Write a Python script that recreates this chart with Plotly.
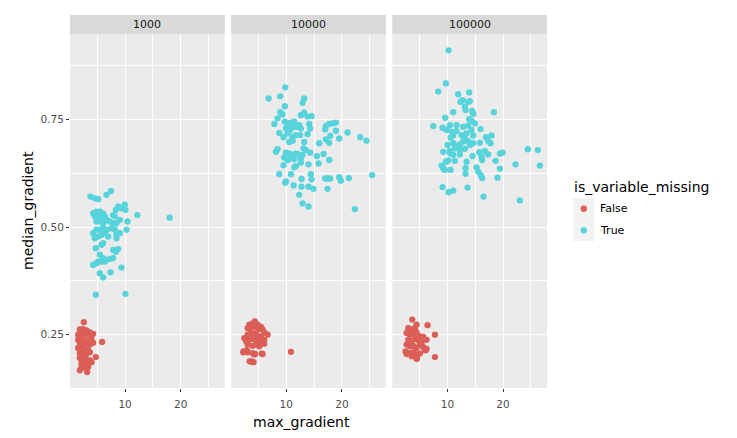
import plotly.graph_objects as go

# ---------------- data ----------------
panels = ["1000", "10000", "100000"]
groups = ["False", "True"]
colors = {"False": "#db5f57", "True": "#57d3db"}

# panel 1000
p1_false_x = [2.58, 1.87, 2.46, 3.06, 3.66, 4.26, 2.16, 2.76, 3.36, 3.96, 1.57, 5.87,
              1.57, 2.16, 2.76, 3.36, 3.96, 1.87, 2.46, 3.06, 3.66, 4.26,
              1.57, 2.16, 2.76, 3.36, 1.87, 2.46, 3.06, 3.66, 4.74,
              1.87, 2.46, 3.06, 3.66, 2.16, 2.76, 3.36, 3.96, 2.16, 2.76, 3.36, 1.87, 3.18]
p1_false_y = [0.279, 0.262, 0.263, 0.260, 0.255, 0.252, 0.254, 0.252, 0.250, 0.248, 0.250, 0.233,
              0.238, 0.240, 0.237, 0.235, 0.238, 0.231, 0.227, 0.231, 0.227, 0.231,
              0.219, 0.215, 0.217, 0.214, 0.207, 0.204, 0.206, 0.209, 0.198,
              0.196, 0.192, 0.193, 0.190, 0.184, 0.180, 0.183, 0.186, 0.177, 0.173, 0.175, 0.167, 0.163]
p1_true_x = [3.78, 4.56, 5.16, 6.66, 7.44, 8.33, 8.75, 9.35, 9.95, 10.07, 12.2, 7.85, 8.15,
             4.26, 4.86, 5.46, 6.06, 4.56, 5.16, 5.76, 6.36, 4.86, 5.46, 6.06, 6.66,
             7.26, 7.85, 8.45, 9.05, 10.43, 10.25, 9.05, 8.45, 8.15, 7.56,
             4.26, 4.86, 5.46, 6.06, 6.66, 4.56, 5.16, 5.76, 6.36, 6.96,
             8.45, 4.74, 5.76, 6.06, 7.85, 8.75, 8.33,
             5.46, 6.06, 6.66, 7.26, 7.85, 5.76, 6.36, 4.26, 4.86, 5.16, 9.35,
             5.46, 6.06, 7.38, 4.74, 10.07, 18.0]
p1_true_y = [0.571, 0.567, 0.565, 0.575, 0.584, 0.540, 0.548, 0.544, 0.552, 0.540, 0.528, 0.528, 0.525,
             0.532, 0.536, 0.536, 0.532, 0.525, 0.525, 0.521, 0.525, 0.513, 0.513, 0.509, 0.517,
             0.513, 0.509, 0.509, 0.517, 0.513, 0.494, 0.486, 0.482, 0.494, 0.497,
             0.486, 0.494, 0.494, 0.497, 0.494, 0.474, 0.478, 0.482, 0.486, 0.478,
             0.474, 0.451, 0.459, 0.463, 0.447, 0.449, 0.443,
             0.436, 0.428, 0.424, 0.426, 0.428, 0.420, 0.420, 0.412, 0.416, 0.420, 0.406,
             0.393, 0.383, 0.395, 0.343, 0.345, 0.522]

# panel 10000
p2_false_x = [4.37, 3.36, 3.96, 4.85, 5.45, 3.06, 3.66, 4.26, 4.85, 5.75, 6.05, 6.65,
              2.46, 3.06, 3.66, 4.26, 4.85, 5.45, 2.76, 3.36, 3.96, 4.55, 5.15, 5.75, 6.05,
              3.06, 3.96, 4.55, 5.15, 6.05, 2.34, 2.94, 3.96, 4.26, 5.57,
              3.66, 4.13, 10.84, 2.27, 3.04, 3.42, 3.89, 5.75, 4.40]
p2_false_y = [0.281, 0.273, 0.276, 0.273, 0.268, 0.265, 0.265, 0.268, 0.262, 0.262, 0.255, 0.250,
              0.242, 0.250, 0.254, 0.252, 0.248, 0.245, 0.235, 0.238, 0.240, 0.237, 0.235, 0.231, 0.238,
              0.227, 0.224, 0.227, 0.223, 0.229, 0.211, 0.214, 0.207, 0.204, 0.206,
              0.188, 0.186, 0.210, 0.209, 0.209, 0.188, 0.187, 0.205, 0.205]
p2_true_x = [9.82, 6.83, 8.92, 13.23, 12.93, 9.76, 8.92, 9.34, 12.63, 13.23, 13.83, 14.55,
             8.44, 7.85, 9.76, 10.24, 10.84, 11.44, 11.74, 9.94, 10.72, 11.32, 12.33, 12.63, 14.13, 14.31,
             17.12, 17.72, 18.32, 18.92, 17.0, 18.92, 21.01, 23.29, 24.42,
             8.74, 9.52, 10.24, 11.14, 11.74, 12.51, 13.83, 17.9, 17.12, 19.52, 17.72,
             10.54, 11.14, 13.23, 15.92, 8.44, 8.14, 13.11, 13.53, 14.31, 11.74, 12.03,
             9.94, 10.54, 11.14, 9.64, 10.24, 10.84, 11.44, 12.63, 12.93,
             15.51, 16.70, 17.72, 15.81, 9.52, 11.74, 12.63, 14.01, 11.44,
             8.74, 10.84, 14.43, 14.55, 12.75, 17.0, 17.42, 17.9, 19.52, 19.82, 21.25, 25.44,
             9.82, 9.94, 11.32, 12.75, 14.01, 14.91, 17.42, 12.33, 12.93, 14.01, 22.33]
p2_true_y = [0.825, 0.799, 0.804, 0.799, 0.789, 0.781, 0.767, 0.762, 0.760, 0.766, 0.757, 0.758,
             0.753, 0.740, 0.745, 0.737, 0.743, 0.745, 0.733, 0.729, 0.726, 0.733, 0.737, 0.729, 0.740, 0.729,
             0.735, 0.740, 0.741, 0.743, 0.727, 0.724, 0.720, 0.709, 0.701,
             0.719, 0.709, 0.718, 0.710, 0.714, 0.714, 0.716, 0.712, 0.704, 0.706, 0.696,
             0.698, 0.701, 0.698, 0.695, 0.681, 0.675, 0.683, 0.679, 0.673, 0.671, 0.670,
             0.673, 0.671, 0.668, 0.662, 0.656, 0.660, 0.658, 0.660, 0.668,
             0.665, 0.670, 0.656, 0.648, 0.644, 0.642, 0.650, 0.646, 0.639,
             0.623, 0.623, 0.623, 0.611, 0.612, 0.613, 0.613, 0.613, 0.616, 0.608, 0.614, 0.621,
             0.603, 0.606, 0.597, 0.594, 0.594, 0.589, 0.589, 0.575, 0.555, 0.548, 0.542]

# panel 100000
p3_false_x = [3.69, 4.46, 2.97, 3.57, 4.17, 6.44, 7.76,
              2.67, 3.27, 3.87, 4.46, 5.06, 5.66, 2.97, 3.57, 4.17, 4.76, 5.36, 6.26,
              2.67, 3.27, 3.87, 4.46, 5.06, 5.66, 6.26,
              2.49, 3.27, 3.87, 4.46, 5.06, 5.96, 4.46, 3.57, 7.76, 2.67, 4.52, 6.09]
p3_false_y = [0.285, 0.273, 0.265, 0.262, 0.265, 0.272, 0.250,
              0.254, 0.250, 0.252, 0.255, 0.246, 0.245, 0.238, 0.235, 0.240, 0.237, 0.232, 0.238,
              0.227, 0.223, 0.224, 0.219, 0.227, 0.221, 0.217,
              0.211, 0.207, 0.209, 0.204, 0.206, 0.214, 0.194, 0.200, 0.198, 0.205, 0.194, 0.214]
p3_true_x = [10.21, 9.73, 8.35, 11.94, 13.92, 12.36, 12.72, 13.74, 14.04, 13.14, 13.26,
             11.05, 14.46, 14.64, 18.35, 9.61, 13.92, 14.34, 14.94,
             7.46, 9.13, 10.45, 11.65, 12.84, 13.74, 14.34, 15.95,
             9.85, 10.75, 11.65, 11.05, 10.57, 12.54, 13.44, 14.64, 13.14,
             16.91, 17.93, 17.33, 17.75, 15.83,
             10.03, 11.05, 11.65, 12.24, 12.84, 13.74, 14.04, 14.64,
             11.35, 12.24, 13.14, 10.45, 9.25, 10.45,
             15.71, 16.73, 17.33, 19.43, 19.90, 24.45, 26.25,
             11.05, 12.24, 14.52, 16.13, 16.25, 10.15, 9.73, 11.35, 13.44,
             18.65, 22.24, 26.61, 8.95, 9.25, 10.57, 9.55, 13.26, 15.24,
             19.43, 15.54, 16.01, 16.25, 13.26, 19.01, 9.13, 13.62, 10.21, 11.05, 16.49, 23.02]
p3_true_y = [0.911, 0.834, 0.815, 0.809, 0.813, 0.791, 0.795, 0.791, 0.793, 0.780, 0.772,
             0.767, 0.770, 0.763, 0.767, 0.754, 0.751, 0.747, 0.741,
             0.735, 0.731, 0.737, 0.737, 0.733, 0.736, 0.726, 0.728,
             0.726, 0.722, 0.723, 0.713, 0.708, 0.714, 0.718, 0.713, 0.706,
             0.709, 0.713, 0.700, 0.695, 0.696,
             0.691, 0.695, 0.689, 0.692, 0.699, 0.700, 0.691, 0.695,
             0.683, 0.679, 0.682, 0.677, 0.675, 0.672,
             0.674, 0.677, 0.669, 0.671, 0.673, 0.681, 0.679,
             0.668, 0.669, 0.665, 0.664, 0.656, 0.655, 0.652, 0.654, 0.652,
             0.654, 0.646, 0.643, 0.643, 0.637, 0.633, 0.633, 0.637, 0.639,
             0.636, 0.629, 0.621, 0.614, 0.624, 0.615, 0.593, 0.592, 0.581, 0.585, 0.571, 0.562]

x_tickvals = [10, 20]
x_ticktext = ["10", "20"]
x_minor = [5, 15, 25]
y_tickvals = [0.25, 0.50, 0.75]
y_ticktext = ["0.25", "0.50", "0.75"]
y_minor = [0.125, 0.375, 0.625, 0.875]

data = {
    "1000": {"False": (p1_false_x, p1_false_y), "True": (p1_true_x, p1_true_y)},
    "10000": {"False": (p2_false_x, p2_false_y), "True": (p2_true_x, p2_true_y)},
    "100000": {"False": (p3_false_x, p3_false_y), "True": (p3_true_x, p3_true_y)},
}

# ---------------- figure ----------------
OFF = 8                       # page body margin offset in the browser
W, H = 737 - 2 * OFF, 438 - 2 * OFF
A_LEFT, A_RIGHT, A_TOP, A_BOTTOM = 70, 547, 14.7, 388.3
ML = A_LEFT - OFF
MR = W - (A_RIGHT - OFF)
MT = A_TOP - OFF
MB = H - (A_BOTTOM - OFF)
PW = W - ML - MR
PH = H - MT - MB
panel_w = 154.7
gap = (PW - 3 * panel_w) / 2
strip_h = 19
ytop = (PH - strip_h) / PH


def px_x(ax):  # absolute window px -> paper x
    return (ax - OFF - ML) / PW


def px_y(ay):  # absolute window px -> paper y
    return (H - MB - (ay - OFF)) / PH


FONT = "DejaVu Sans"
fig = go.Figure()

for i, p in enumerate(panels):
    xa = "x" if i == 0 else f"x{i+1}"
    ya = "y" if i == 0 else f"y{i+1}"
    for g in groups:
        xs, ys = data[p][g]
        fig.add_trace(go.Scatter(
            x=xs, y=ys, mode="markers", xaxis=xa, yaxis=ya,
            name=g, legendgroup=g, showlegend=False,
            marker=dict(color=colors[g], size=6.3, line=dict(width=0)),
        ))

axis_common = dict(
    showline=False, zeroline=False, showgrid=True,
    gridcolor="white", gridwidth=1.2,
    ticks="outside", ticklen=3, tickwidth=1, tickcolor="#333333",
    tickfont=dict(family=FONT, size=10.5, color="#4d4d4d"),
)

for i, p in enumerate(panels):
    x0 = (i * (panel_w + gap)) / PW
    x1 = (i * (panel_w + gap) + panel_w) / PW
    sfx = "" if i == 0 else str(i + 1)
    fig.layout["xaxis" + sfx] = dict(
        axis_common, domain=[x0, min(x1, 1)], range=[0.1, 27.9],
        anchor="y" + sfx, tickvals=x_tickvals, ticktext=x_ticktext,
        ticklabelstandoff=3,
        minor=dict(tickvals=x_minor, showgrid=True, gridcolor="white", gridwidth=0.6, ticks=""),
    )
    fig.layout["yaxis" + sfx] = dict(
        axis_common, domain=[0, ytop], range=[0.126, 0.949],
        anchor="x" + sfx, tickvals=y_tickvals, ticktext=y_ticktext,
        showticklabels=(i == 0), ticks=("outside" if i == 0 else ""),
        minor=dict(tickvals=y_minor, showgrid=True, gridcolor="white", gridwidth=0.6, ticks=""),
    )
    # strip
    fig.add_shape(type="rect", xref=f"x{sfx} domain", yref="paper",
                  x0=0, x1=1, y0=ytop, y1=1, fillcolor="#d9d9d9", line=dict(width=0),
                  layer="below")
    fig.add_annotation(text=p, xref=f"x{sfx} domain", yref="paper", x=0.5, y=(ytop + 1) / 2,
                       showarrow=False, font=dict(family=FONT, size=11, color="#1a1a1a"),
                       xanchor="center", yanchor="middle")

# axis titles
fig.add_annotation(text="max_gradient", xref="paper", yref="paper",
                   x=px_x(301), y=px_y(422),
                   showarrow=False, font=dict(family=FONT, size=14, color="black"),
                   xanchor="center", yanchor="middle")
fig.add_annotation(text="median_gradient", xref="paper", yref="paper",
                   x=px_x(28), y=px_y(211), textangle=-90,
                   showarrow=False, font=dict(family=FONT, size=14, color="black"),
                   xanchor="center", yanchor="middle")

# legend (ggplot-style: title, grey key squares, dots, labels)
fig.add_annotation(text="is_variable_missing", xref="paper", yref="paper",
                   x=px_x(572), y=px_y(187), showarrow=False,
                   font=dict(family=FONT, size=14, color="black"),
                   xanchor="left", yanchor="middle")
key_top = 198
key_size = 21.6
r = 3.2
for k, g in enumerate(groups):
    ky0 = key_top + k * key_size
    cy = ky0 + key_size / 2
    cx = 573 + key_size / 2
    fig.add_shape(type="rect", xref="paper", yref="paper",
                  x0=px_x(573), x1=px_x(573 + key_size), y0=px_y(ky0 + key_size), y1=px_y(ky0),
                  fillcolor="#f2f2f2", line=dict(width=0))
    fig.add_shape(type="circle", xref="paper", yref="paper",
                  x0=px_x(cx - r), x1=px_x(cx + r), y0=px_y(cy + r), y1=px_y(cy - r),
                  fillcolor=colors[g], line=dict(width=0))
    fig.add_annotation(text=g, xref="paper", yref="paper",
                       x=px_x(598), y=px_y(cy), showarrow=False,
                       font=dict(family=FONT, size=11, color="black"),
                       xanchor="left", yanchor="middle")

fig.update_layout(
    width=W, height=H, autosize=False,
    margin=dict(l=ML, r=MR, t=MT, b=MB, pad=0, autoexpand=False),
    paper_bgcolor="white", plot_bgcolor="#ebebeb",
    font=dict(family=FONT),
    showlegend=False,
)

fig.write_html("out.html")
